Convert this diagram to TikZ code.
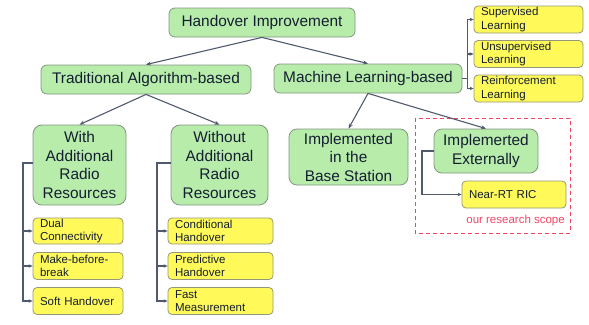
\documentclass[tikz,border=0pt]{standalone}
\usepackage{fontspec}
\setmainfont{Liberation Sans}
\usetikzlibrary{arrows.meta}
\definecolor{gfill}{RGB}{184,236,170}
\definecolor{gdraw}{RGB}{130,150,130}
\definecolor{yfill}{RGB}{255,250,90}
\definecolor{ydraw}{RGB}{150,150,120}
\definecolor{tcol}{RGB}{20,30,50}
\definecolor{lcol}{RGB}{80,90,110}
\definecolor{scol}{RGB}{240,70,100}
\tikzset{
  gbox/.style={draw=gdraw, fill=gfill, text=tcol, rounded corners=6pt, line width=0.8pt,
    align=center, inner sep=0pt, font=\fontsize{15.4}{18.5}\selectfont},
  ybox/.style={draw=ydraw, fill=yfill, text=tcol, rounded corners=4pt, line width=0.8pt,
    align=left, inner xsep=7pt, inner ysep=0pt, font=\fontsize{11.5}{13.5}\selectfont},
  conn/.style={draw=lcol, line width=1.1pt, -{Stealth[length=5pt,width=4pt]}},
  brk/.style={draw=lcol, line width=1.1pt, -{Stealth[length=4pt,width=3.5pt]}},
}
\begin{document}
\begin{tikzpicture}[x=1pt,y=-1pt]
\useasboundingbox (0,0) rectangle (589,324);
% green nodes
\node[gbox, minimum width=186, minimum height=29] (hi) at (262,22.5) {Handover Improvement};
\node[gbox, minimum width=210, minimum height=29] (trad) at (146,79.5) {Traditional Algorithm-based};
\node[gbox, minimum width=188, minimum height=29] (ml) at (368,78.5) {Machine Learning-based};
\node[gbox, minimum width=93, minimum height=80, rounded corners=9pt] (with) at (79.5,165) {With\\Additional\\Radio\\Resources};
\node[gbox, minimum width=97, minimum height=80, rounded corners=9pt] (without) at (219.5,165) {Without\\Additional\\Radio\\Resources};
\node[gbox, minimum width=119, minimum height=56, rounded corners=8pt] (ibs) at (348.5,157) {Implemented\\in the\\Base Station};
\node[gbox, minimum width=104, minimum height=44, rounded corners=8pt] (iext) at (486,151) {Implemerted\\Externally};
% yellow nodes - ML
\node[ybox, minimum width=109, minimum height=27, text width=95] (sup) at (528.5,19.5) {Supervised\\Learning};
\node[ybox, minimum width=109, minimum height=27, text width=95] (unsup) at (528.5,54) {Unsupervised\\Learning};
\node[ybox, minimum width=109, minimum height=27, text width=95] (reinf) at (528.5,88.5) {Reinforcement\\Learning};
% yellow nodes - with
\node[ybox, minimum width=90, minimum height=26, text width=76] (dual) at (78,231) {Dual\\Connectivity};
\node[ybox, minimum width=90, minimum height=27, text width=76] (mbb) at (78,266) {Make-before-\\break};
\node[ybox, minimum width=90, minimum height=27, text width=76] (soft) at (78,301) {Soft Handover};
% yellow nodes - without
\node[ybox, minimum width=105, minimum height=26, text width=91] (cho) at (220.5,231) {Conditional\\Handover};
\node[ybox, minimum width=105, minimum height=27, text width=91] (pho) at (220.5,266) {Predictive\\Handover};
\node[ybox, minimum width=105, minimum height=27, text width=91] (fm) at (220.5,301) {Fast\\Measurement};
% RIC
\node[ybox, minimum width=104, minimum height=27, text width=90] (ric) at (514,194.5) {Near-RT RIC};
% scope
\draw[scol, line width=1pt, dash pattern=on 4pt off 3pt] (415,118) rectangle (570,233);
\node[text=scol, anchor=east, inner sep=0pt, font=\fontsize{11.5}{13.5}\selectfont] (scope) at (565,221) {our research scope};
% main connectors
\draw[conn] (hi.south) -- (trad.north);
\draw[conn] (hi.south) -- (ml.north);
\draw[conn] (trad.south) -- (with.north);
\draw[conn] (trad.south) -- (without.north);
\draw[conn] (ml.south) -- (ibs.north);
\draw[conn] (ml.south) -- (iext.north);
% brackets
\draw[brk] (ml.east) -- ++(5,0) |- (sup.west);
\draw[brk] (ml.east) -- ++(5,0) |- (unsup.west);
\draw[brk] (ml.east) -- ++(5,0) |- (reinf.west);
\draw[brk] (with.west |- 0,163) -- (23,163) |- (dual.west);
\draw[brk] (with.west |- 0,163) -- (23,163) |- (mbb.west);
\draw[brk] (with.west |- 0,163) -- (23,163) |- (soft.west);
\draw[brk] (without.west |- 0,163) -- (157,163) |- (cho.west);
\draw[brk] (without.west |- 0,163) -- (157,163) |- (pho.west);
\draw[brk] (without.west |- 0,163) -- (157,163) |- (fm.west);
\draw[brk] (iext.west) -- (422,151) |- (ric.west);
\end{tikzpicture}
\end{document}
